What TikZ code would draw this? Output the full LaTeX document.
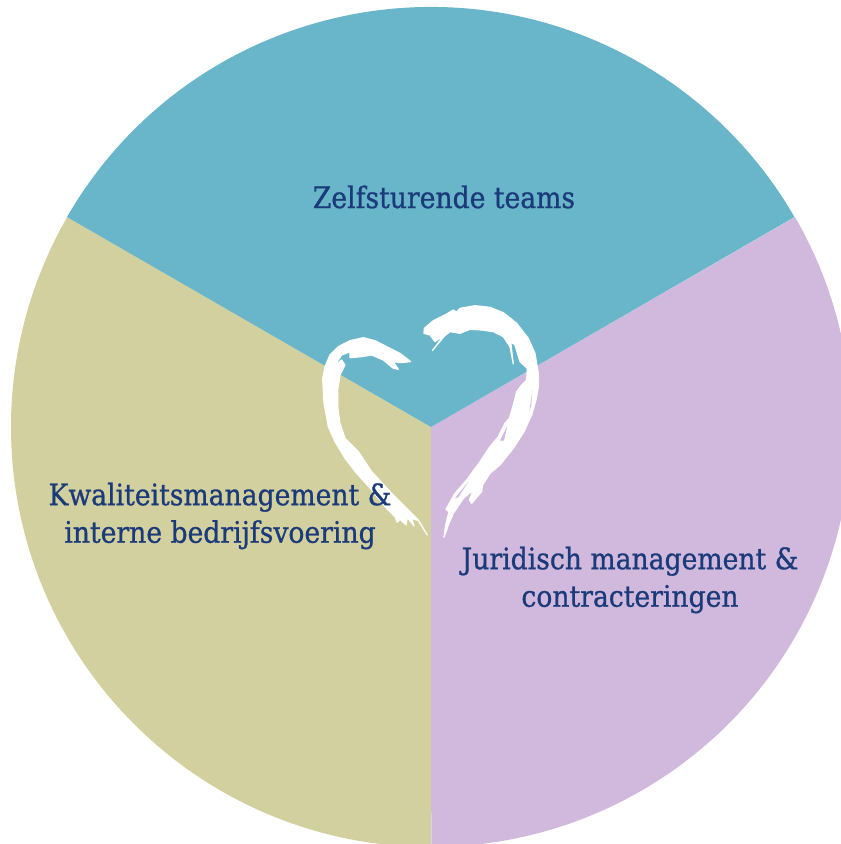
\documentclass[tikz,border=0pt]{standalone}
\usepackage{fontspec}
\newfontfamily\labelfont[FakeBold=0.8]{DejaVu Serif Condensed}
\definecolor{tealpart}{HTML}{69B5C9}
\definecolor{olivepart}{HTML}{D3D09F}
\definecolor{lilacpart}{HTML}{D1B9DD}
\definecolor{navytext}{HTML}{1A3A7A}
\tikzset{
    label/.style={
        text=navytext,
        align=center,
        inner sep=0pt,
        font=\labelfont\fontsize{29.6}{37.5}\selectfont
    },
    brush/.style={
        fill=white,
        draw=white,
        line width=1.2pt,
        line join=round
    }
}
\begin{document}
\begin{tikzpicture}[x=1pt,y=-1pt]
    \useasboundingbox (0,0) rectangle (841,844);
    \clip (0,0) rectangle (841,844);
    \coordinate (hub) at (431,427);
    % the three parts of the disc
    \fill[olivepart] (hub) -- (431,847) arc[start angle=-90,end angle=-210,radius=420pt] -- cycle;
    \fill[lilacpart] (hub) -- (795,217) arc[start angle=30,end angle=-90,radius=420pt] -- cycle;
    \fill[tealpart] (hub) -- (67,217) arc[start angle=150,end angle=30,radius=420pt] -- cycle;
    % brush heart, traced from the 3x crop
    \begin{scope}[shift={(300,290)},x=0.3333pt,y=-0.3333pt]
        \path[brush] (332,215) -- (300,190) -- (270,175) -- (225,152) -- (190,143) -- (150,152)
            -- (115,170) -- (90,195) -- (75,230) -- (68,265) -- (72,340) -- (85,410) -- (105,455)
            -- (135,505) -- (170,550) -- (215,600) -- (260,655) -- (285,680) -- (292,697) -- (300,688)
            -- (318,705) -- (322,682) -- (342,708) -- (335,685) -- (355,692) -- (382,735) -- (355,690)
            -- (330,665) -- (275,610) -- (215,545) -- (175,485) -- (135,445) -- (120,400) -- (113,350)
            -- (113,300) -- (120,255) -- (135,225) -- (125,210) -- (103,228) -- (125,195) -- (150,185)
            -- (150,203) -- (185,200) -- (215,195) -- (250,210) -- (280,235) -- (295,238) -- (280,215)
            -- (300,218) -- cycle;
        \path[brush] (372,130) -- (373,115) -- (400,92) -- (440,72) -- (460,60) -- (470,66) -- (480,55)
            -- (525,47) -- (570,52) -- (610,68) -- (650,100) -- (685,145) -- (705,190) -- (715,250)
            -- (716,285) -- (708,330) -- (695,375) -- (672,425) -- (640,475) -- (600,525) -- (570,550)
            -- (548,585) -- (545,605) -- (515,640) -- (508,630) -- (520,600) -- (490,625) -- (460,670)
            -- (445,705) -- (432,742) -- (438,700) -- (447,665) -- (438,658) -- (465,610) -- (500,570)
            -- (540,515) -- (570,470) -- (595,440) -- (615,400) -- (628,385) -- (640,345) -- (650,305)
            -- (665,285) -- (680,270) -- (682,235) -- (660,215) -- (645,165) -- (632,155) -- (640,222)
            -- (630,170) -- (610,140) -- (580,125) -- (545,120) -- (510,118) -- (480,130) -- (450,125)
            -- (425,145) -- (397,182) -- (440,130) -- (405,155) -- (390,135) -- cycle;
        % streaks where the brush left a gap
        \fill[lilacpart] (697,303) -- (688,367) -- (694,345) -- cycle;
        \fill[lilacpart] (622,408) -- (600,452) -- (612,452) -- cycle;
        \fill[lilacpart] (505,575) -- (465,625) -- (475,622) -- cycle;
    \end{scope}
    % labels
    \node[label] (teams) at (444,197) {Zelfsturende teams};
    \node[label] (quality) at (220,516) {Kwaliteitsmanagement \&\\interne bedrijfsvoering};
    \node[label] (legal) at (630,580) {Juridisch management \&\\contracteringen};
\end{tikzpicture}
\end{document}
